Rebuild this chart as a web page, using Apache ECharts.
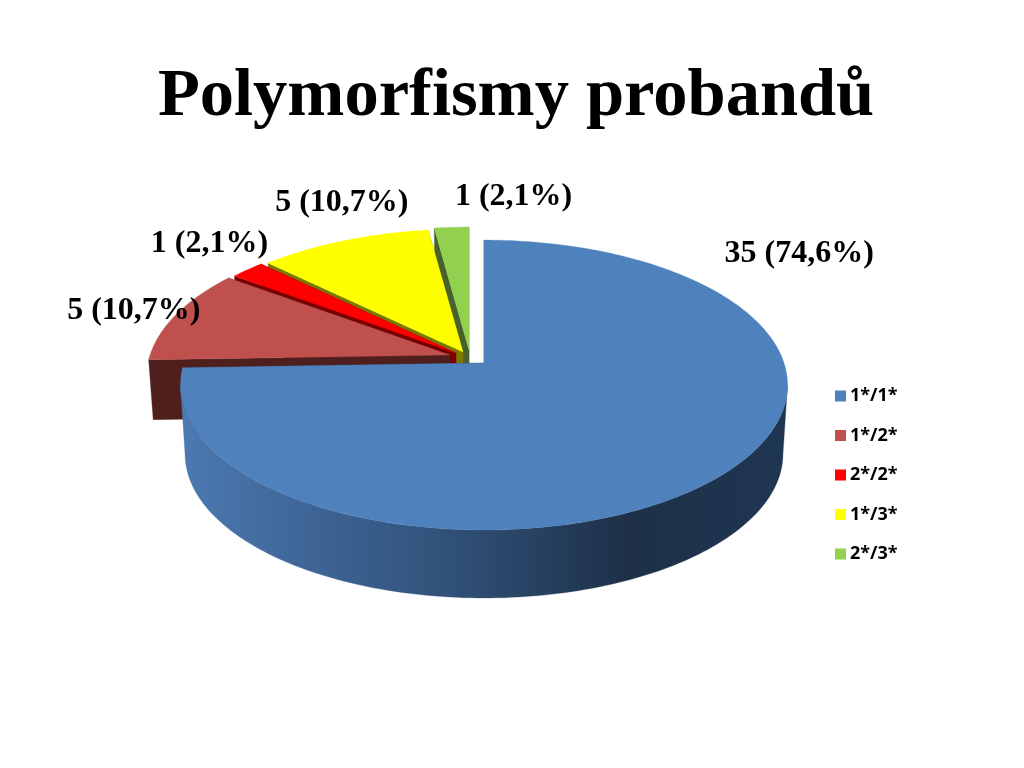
<!DOCTYPE html>
<html>
<head>
<meta charset="utf-8">
<style>html,body{margin:0;padding:0;background:#fff}#c{width:1024px;height:768px}</style>
<script src="https://cdn.jsdelivr.net/npm/echarts@6/dist/echarts.min.js"></script>
</head>
<body>
<div id="c"></div>
<script>
var titleText = 'Polymorfismy probandů';
var categories = ['1*/1*', '1*/2*', '2*/2*', '1*/3*', '2*/3*'];
var values = [35, 5, 1, 5, 1];
var valueLabels = ['35 (74,6%)', '5 (10,7%)', '1 (2,1%)', '5 (10,7%)', '1 (2,1%)'];

var topColors = ['#4F81BD', '#C0504D', '#FF0000', '#FFFF00', '#92D050'];
var wallColors = ['#2c4a6e', '#4f1f1e', '#7a0000', '#7a7a00', '#46622a'];

// perspective pie geometry
var CX = 484, CY = 363, R = 300, RT = 141.6, K = 0.152, BASE_X = 0.985, BASE_Y = 0.92;
var depths = [69, 60, 60, 60, 60];
// explosion of each slice away from the pie centre, and label nudge from its rim midpoint
var explode = [[0, 0], [-34, -8], [-28, -10], [-21, -11], [-15, -13]];
var labelNudge = [[74, -219], [-42, -4], [-38, -26], [-2, -38], [62, -31]];

var total = values.reduce(function (a, b) { return a + b; }, 0);
// widest points of the projected rim: the outer wall is only visible between them
var FRONT_START = Math.acos(-K), FRONT_END = Math.PI * 2 - FRONT_START;

function proj(i, theta, bottom) {
  var ax = CX + explode[i][0], ay = CY + explode[i][1];
  var u = Math.sin(theta), v = -Math.cos(theta), s = 1 / (1 - K * v);
  if (!bottom) return [ax + R * u * s, ay + RT * v * s];
  return [ax + R * BASE_X * u * s, ay + (RT * BASE_Y * v + depths[i]) * s];
}
function apex(i, bottom) {
  return [CX + explode[i][0], CY + explode[i][1] + (bottom ? depths[i] : 0)];
}
function arc(i, a0, a1, bottom) {
  var n = Math.max(2, Math.ceil((a1 - a0) / 0.02)), pts = [];
  for (var j = 0; j <= n; j++) pts.push(proj(i, a0 + (a1 - a0) * j / n, bottom));
  return pts;
}
function poly(points, fill) {
  return {
    type: 'polygon', silent: true, shape: { points: points },
    style: { fill: fill, stroke: fill, lineWidth: 0.3 }
  };
}

function makeRender(i) {
  return function (params, api) {
    var value = api.value(0);
    var before = 0;
    for (var k = 0; k < i; k++) before += values[k];
    var a0 = before / total * Math.PI * 2;
    var a1 = a0 + value / total * Math.PI * 2;
    var wall = wallColors[i];
    var arcWall = wall;
    if (i === 0) {
      arcWall = new echarts.graphic.LinearGradient(186, 0, 782, 0, [
        { offset: 0, color: '#4b79b0' },
        { offset: 0.18, color: '#40689a' },
        { offset: 0.5, color: '#2d4b70' },
        { offset: 0.74, color: '#1d3047' },
        { offset: 1, color: '#1f3652' }
      ], true);
    }
    var pA = apex(i, false), pB = apex(i, true);
    var children = [
      poly([pA, proj(i, a1, false), proj(i, a1, true), pB], wall),
      poly([pA, proj(i, a0, false), proj(i, a0, true), pB], wall)
    ];
    var w0 = Math.max(a0, FRONT_START), w1 = Math.min(a1, FRONT_END);
    if (w1 > w0) {
      children.push(poly(arc(i, w0, w1, false).concat(arc(i, w0, w1, true).reverse()), arcWall));
    }
    children.push(poly([pA].concat(arc(i, a0, a1, false)), topColors[i]));
    var mid = proj(i, (a0 + a1) / 2, false);
    children.push({
      type: 'text', silent: true,
      x: mid[0] + labelNudge[i][0], y: mid[1] + labelNudge[i][1],
      style: {
        text: valueLabels[i], fill: '#000', align: 'center', verticalAlign: 'middle',
        font: 'bold 32px "Liberation Serif", serif'
      }
    });
    return { type: 'group', children: children };
  };
}

var series = categories.map(function (name, i) {
  return {
    type: 'custom', name: name, coordinateSystem: 'none',
    z: 10 - i, silent: true, animation: false,
    itemStyle: { color: topColors[i] },
    data: [[values[i]]],
    renderItem: makeRender(i)
  };
});

var chart = echarts.init(document.getElementById('c'), null, { renderer: 'canvas' });
chart.setOption({
  animation: false,
  backgroundColor: '#fff',
  color: topColors,
  title: {
    text: titleText, left: 158, top: 63,
    textStyle: { fontFamily: '"Liberation Serif", serif', fontWeight: 'bold', fontSize: 68.5, color: '#000' },
    padding: 0
  },
  legend: {
    data: categories, orient: 'vertical', left: 830, top: 382,
    itemWidth: 11, itemHeight: 11, itemGap: 21.5, selectedMode: false,
    icon: 'rect',
    textStyle: { fontFamily: '"Open Sans", sans-serif', fontWeight: 'bold', fontSize: 18, color: '#000', padding: [0, 0, 0, -1] }
  },
  series: series
});
</script>
</body>
</html>
